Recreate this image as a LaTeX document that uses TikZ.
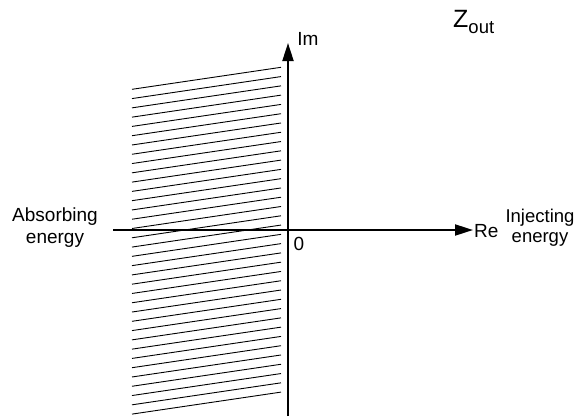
\documentclass[tikz,border=0pt]{standalone}
\usepackage{fontspec}
\setmainfont{Liberation Sans}
\usetikzlibrary{positioning,arrows.meta}
\tikzset{
  lbl/.style={inner sep=0pt, font=\fontsize{19}{22}\selectfont, align=center},
  axis/.style={line width=2pt, -{Triangle[length=18pt, width=11pt]}},
  hatch/.style={line width=0.9pt}}

\begin{document}
\begin{tikzpicture}[x=1pt, y=-1pt]
\useasboundingbox (0,0) rectangle (581,416);
\coordinate (xlo) at (113,230);
\coordinate (xhi) at (473,230);
\coordinate (ylo) at (288,416);
\coordinate (yhi) at (288,43);
% left half plane
\foreach \i in {0,...,35}
  \draw[hatch] (132,89.3+9.28*\i) -- (281,67.3+9.28*\i);
\draw[axis] (ylo) -- (yhi);
\draw[axis] (xlo) -- (xhi);
\node[lbl, anchor=base] (im) at (308,45) {Im};
\node[lbl, anchor=base west] (re) at (474,237) {Re};
\node[lbl, anchor=base] (zero) at (299,250) {0};
\node[lbl] (absorb) at (55,228) {Absorbing\\energy};
\node[lbl, font=\fontsize{18.5}{20}\selectfont] (inject) at (540,228) {Injecting\\energy};
\node[anchor=base west, inner sep=0pt, font=\fontsize{25}{28}\selectfont] (zout) at (453,27)
  {Z\raisebox{-6pt}{\fontsize{18.5}{20}\selectfont out}};
\end{tikzpicture}
\end{document}
